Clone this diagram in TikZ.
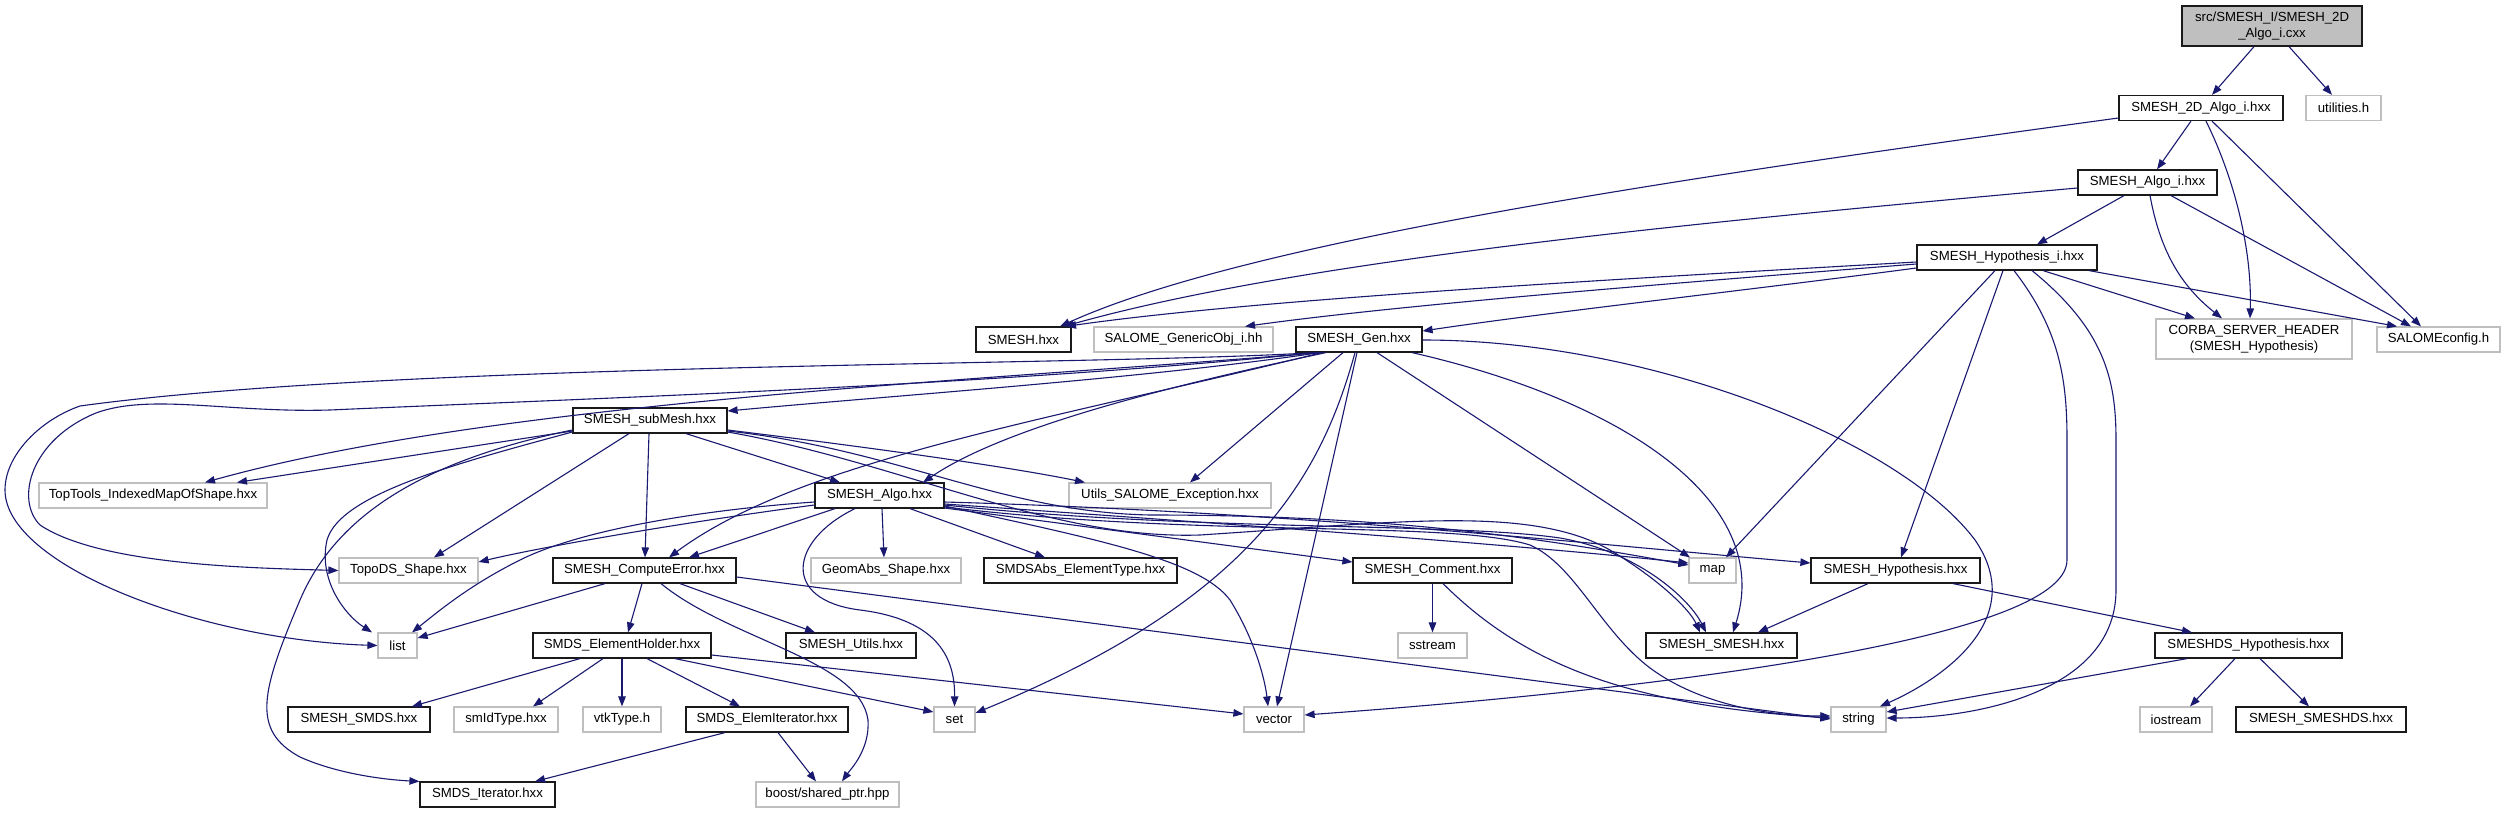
\documentclass[tikz,border=0pt]{standalone}
\usepackage{fontspec}
\setmainfont{Liberation Sans}
\usetikzlibrary{arrows.meta}
\definecolor{edgeblue}{HTML}{191970}
\definecolor{greybox}{HTML}{BFBFBF}
\definecolor{darkbox}{HTML}{1A1A1A}
\begin{document}
\begin{tikzpicture}[x=1pt,y=-1pt,
  nb/.style={draw=darkbox, fill=white, line width=1.2pt, inner sep=0pt, minimum height=25pt,
    font=\fontsize{13.2}{15.6}\selectfont, align=center},
  ng/.style={nb, draw=greybox},
  e/.style={draw=edgeblue, line width=1.1pt, -{Triangle[length=10pt,width=7.5pt]}}]
\useasboundingbox (0,0) rectangle (2505,813);
\fill[white] (0,0) rectangle (2505,813);
% nodes
\node[nb, fill=greybox, minimum width=180, minimum height=40] (root) at (2272,26) {src/SMESH\_I/SMESH\_2D\\\_Algo\_i.cxx};
\node[nb, minimum width=164] (a2d) at (2201,108) {SMESH\_2D\_Algo\_i.hxx};
\node[ng, minimum width=75] (util) at (2343.5,108) {utilities.h};
\node[nb, minimum width=139] (algoi) at (2147.5,182.5) {SMESH\_Algo\_i.hxx};
\node[nb, minimum width=180] (hypi) at (2007,257.5) {SMESH\_Hypothesis\_i.hxx};
\node[nb, minimum width=95] (smesh) at (1023.5,339.5) {SMESH.hxx};
\node[ng, minimum width=179] (gobj) at (1183.5,339.5) {SALOME\_GenericObj\_i.hh};
\node[nb, minimum width=126] (gen) at (1359,339.5) {SMESH\_Gen.hxx};
\node[ng, minimum width=196, minimum height=40] (corba) at (2254,339) {CORBA\_SERVER\_HEADER\\(SMESH\_Hypothesis)};
\node[ng, minimum width=123] (salcfg) at (2438.5,339.5) {SALOMEconfig.h};
\node[nb, minimum width=154] (submesh) at (650,420.5) {SMESH\_subMesh.hxx};
\node[ng, minimum width=228] (toptools) at (153,495.5) {TopTools\_IndexedMapOfShape.hxx};
\node[nb, minimum width=129] (algo) at (879.5,495.5) {SMESH\_Algo.hxx};
\node[ng, minimum width=202] (uexc) at (1170,495.5) {Utils\_SALOME\_Exception.hxx};
\node[ng, minimum width=139] (topods) at (408.5,570.5) {TopoDS\_Shape.hxx};
\node[nb, minimum width=183] (comperr) at (644.5,570.5) {SMESH\_ComputeError.hxx};
\node[ng, minimum width=150] (geomabs) at (886,570.5) {GeomAbs\_Shape.hxx};
\node[nb, minimum width=193] (smdsabs) at (1080.5,570.5) {SMDSAbs\_ElementType.hxx};
\node[nb, minimum width=159] (comment) at (1432.5,570.5) {SMESH\_Comment.hxx};
\node[ng, minimum width=47] (map) at (1712.5,570.5) {map};
\node[nb, minimum width=169] (hyp) at (1895.5,570.5) {SMESH\_Hypothesis.hxx};
\node[ng, minimum width=39] (list) at (397.5,645.5) {list};
\node[nb, minimum width=178] (eh) at (622,645.5) {SMDS\_ElementHolder.hxx};
\node[nb, minimum width=130] (utilsh) at (851,645.5) {SMESH\_Utils.hxx};
\node[ng, minimum width=69] (sstream) at (1432.5,645.5) {sstream};
\node[nb, minimum width=151] (ss) at (1721.5,645.5) {SMESH\_SMESH.hxx};
\node[nb, minimum width=187] (dshyp) at (2248.5,645.5) {SMESHDS\_Hypothesis.hxx};
\node[nb, minimum width=142] (smds) at (359,719.5) {SMESH\_SMDS.hxx};
\node[ng, minimum width=104] (smid) at (506,719.5) {smIdType.hxx};
\node[ng, minimum width=78] (vtk) at (622,719.5) {vtkType.h};
\node[nb, minimum width=162] (elemit) at (767,719.5) {SMDS\_ElemIterator.hxx};
\node[ng, minimum width=41] (set) at (954.5,719.5) {set};
\node[ng, minimum width=60] (vector) at (1274,719.5) {vector};
\node[ng, minimum width=55] (string) at (1858.5,719.5) {string};
\node[ng, minimum width=72] (iostream) at (2176,719.5) {iostream};
\node[nb, minimum width=170] (smeshds) at (2321,719.5) {SMESH\_SMESHDS.hxx};
\node[nb, minimum width=135] (iter) at (487.5,794.5) {SMDS\_Iterator.hxx};
\node[ng, minimum width=143] (boost) at (827.5,794.5) {boost/shared\_ptr.hpp};
% edges
\draw[e] (root.south -| 2254,0) -- (a2d.north -| 2212,0);
\draw[e] (root.south -| 2289,0) -- (util.north -| 2332,0);
\draw[e] (a2d.south -| 2191,0) -- (algoi.north -| 2157,0);
\draw[e] (a2d.west |- 0,118) .. controls (1700,175) and (1250,240) .. (smesh.north -| 1060,0);
\draw[e] (a2d.south -| 2206,0) .. controls (2235,180) and (2252,250) .. (corba.north -| 2250,0);
\draw[e] (a2d.south -| 2212,0) -- (salcfg.north -| 2421,0);
\draw[e] (algoi.south -| 2124,0) -- (hypi.north -| 2037,0);
\draw[e] (algoi.west |- 0,188) .. controls (1700,222) and (1300,260) .. (smesh.north -| 1064,0);
\draw[e] (algoi.south -| 2150,0) .. controls (2160,250) and (2180,285) .. (corba.north -| 2222,0);
\draw[e] (algoi.south -| 2171,0) -- (salcfg.north -| 2411,0);
\draw[e] (hypi.west |- 0,262) .. controls (1600,280) and (1250,300) .. (smesh.north -| 1066,0);
\draw[e] (hypi.west |- 0,264) .. controls (1650,285) and (1400,305) .. (gobj.north -| 1245,0);
\draw[e] (hypi.west |- 0,268) .. controls (1750,290) and (1550,312) .. (gen.east |- 0,331);
\draw[e] (hypi.south -| 2043,0) -- (corba.north -| 2195,0);
\draw[e] (hypi.south -| 2089,0) -- (salcfg.north -| 2397,0);
\draw[e] (hypi.south -| 1995,0) -- (map.north -| 1726,0);
\draw[e] (hypi.south -| 2003,0) -- (hyp.north -| 1901,0);
\draw[e] (hypi.south -| 2014,0) .. controls (2060,330) and (2067,380) .. (2067,440) -- (2067,560) .. controls (2067,640) and (1650,690) .. (vector.east |- 0,715);
\draw[e] (hypi.south -| 2032,0) .. controls (2105,330) and (2116,380) .. (2116,440) -- (2116,590) .. controls (2116,690) and (1980,718) .. (string.east |- 0,718);
\draw[e] (gen.south -| 1320,0) .. controls (1150,378) and (900,395) .. (submesh.east |- 0,411);
\draw[e] (gen.south -| 1315,0) .. controls (1100,366) and (400,362) .. (80,406) .. controls (40,420) and (5,455) .. (5,490) .. controls (5,565) and (200,640) .. (list.west);
\draw[e] (gen.south -| 1317,0) .. controls (1000,385) and (600,398) .. (330,410) .. controls (230,413) and (150,393) .. (96,413) .. controls (30,440) and (15,500) .. (40,525) .. controls (100,565) and (250,568) .. (topods.west);
\draw[e] (gen.south -| 1319,0) .. controls (1000,380) and (500,400) .. (toptools.north -| 205,0);
\draw[e] (gen.south -| 1322,0) .. controls (1050,420) and (800,460) .. (comperr.north -| 669,0);
\draw[e] (gen.south -| 1326,0) .. controls (1150,390) and (1000,430) .. (algo.north -| 923,0);
\draw[e] (gen.south -| 1343,0) -- (uexc.north -| 1190,0);
\draw[e] (gen.south -| 1355,0) .. controls (1320,480) and (1250,600) .. (set.east |- 0,713);
\draw[e] (gen.south -| 1357,0) -- (vector.north -| 1277,0);
\draw[e] (gen.south -| 1377,0) -- (map.north -| 1690,0);
\draw[e] (gen.south -| 1412,0) .. controls (1620,400) and (1775,500) .. (ss.north -| 1733,0);
\draw[e] (gen.east |- 0,340) .. controls (1650,340) and (1900,440) .. (1975,540) .. controls (2030,620) and (1940,680) .. (string.north -| 1880,0);
\draw[e] (submesh.west |- 0,431) -- (toptools.north -| 237,0);
\draw[e] (submesh.south -| 629,0) -- (topods.north -| 434,0);
\draw[e] (submesh.west |- 0,432) .. controls (450,465) and (340,495) .. (327,540) .. controls (318,580) and (345,615) .. (list.north -| 372,0);
\draw[e] (submesh.west |- 0,430) .. controls (400,465) and (330,530) .. (300,600) .. controls (262,690) and (250,730) .. (300,757) .. controls (340,775) and (390,780) .. (iter.north west);
\draw[e] (submesh.south -| 649,0) -- (comperr.north -| 645,0);
\draw[e] (submesh.south -| 686,0) -- (algo.north -| 840,0);
\draw[e] (submesh.east |- 0,430) .. controls (850,445) and (1000,465) .. (uexc.north -| 1085,0);
\draw[e] (submesh.east |- 0,431) .. controls (900,450) and (1000,512) .. (1150,515) .. controls (1400,515) and (1550,540) .. (map.west |- 0,565);
\draw[e] (submesh.east |- 0,432) .. controls (900,462) and (1050,540) .. (1200,535) .. controls (1400,522) and (1530,505) .. (1610,550) .. controls (1660,580) and (1690,610) .. (ss.north -| 1700,0);
\draw[e] (algo.west |- 0,505) .. controls (700,520) and (550,545) .. (topods.east |- 0,562);
\draw[e] (algo.west |- 0,502) .. controls (700,510) and (580,530) .. (520,560) .. controls (470,585) and (440,610) .. (list.north -| 412,0);
\draw[e] (algo.south -| 835,0) -- (comperr.north -| 689,0);
\draw[e] (algo.south -| 882,0) -- (geomabs.north -| 884,0);
\draw[e] (algo.south -| 910,0) -- (smdsabs.north -| 1045,0);
\draw[e] (algo.south -| 855,0) .. controls (790,540) and (780,600) .. (860,610) .. controls (940,620) and (955,660) .. (set.north);
\draw[e] (algo.east |- 0,506) .. controls (1100,540) and (1200,560) .. (1230,600) .. controls (1255,640) and (1265,680) .. (vector.north -| 1268,0);
\draw[e] (algo.east |- 0,508) -- (comment.west |- 0,562);
\draw[e] (algo.east |- 0,504) .. controls (1200,522) and (1500,543) .. (map.west |- 0,563);
\draw[e] (algo.east |- 0,502) .. controls (1300,512) and (1600,545) .. (hyp.west |- 0,563);
\draw[e] (algo.east |- 0,505) .. controls (1200,532) and (1450,522) .. (1560,538) .. controls (1640,552) and (1690,600) .. (ss.north -| 1706,0);
\draw[e] (algo.east |- 0,507) .. controls (1200,538) and (1450,520) .. (1530,545) .. controls (1575,565) and (1600,630) .. (1650,668) .. controls (1700,705) and (1770,716) .. (string.west |- 0,716);
\draw[e] (comperr.south -| 605,0) -- (list.east |- 0,638);
\draw[e] (comperr.south -| 642,0) -- (eh.north -| 628,0);
\draw[e] (comperr.south -| 680,0) -- (utilsh.north -| 815,0);
\draw[e] (comperr.south -| 661,0) .. controls (730,640) and (860,660) .. (868,720) .. controls (870,750) and (850,770) .. (boost.north -| 842,0);
\draw[e] (comperr.east |- 0,577) -- (string.west |- 0,719);
\draw[e] (eh.south -| 580,0) -- (smds.north -| 412,0);
\draw[e] (eh.south -| 603,0) -- (smid.north -| 533,0);
\draw[e] (eh.south) -- (vtk.north);
\draw[e] (eh.south -| 647,0) -- (elemit.north -| 740,0);
\draw[e] (eh.south -| 675,0) -- (set.west |- 0,712);
\draw[e] (eh.east |- 0,655) -- (vector.west |- 0,714);
\draw[e] (elemit.south -| 725,0) -- (iter.north -| 535,0);
\draw[e] (elemit.south -| 778,0) -- (boost.north -| 816,0);
\draw[e] (comment.south) -- (sstream.north);
\draw[e] (comment.south -| 1443,0) .. controls (1520,660) and (1620,705) .. (string.west |- 0,718);
\draw[e] (hyp.south -| 1868,0) -- (ss.north -| 1758,0);
\draw[e] (hyp.south -| 1953,0) -- (dshyp.north -| 2192,0);
\draw[e] (dshyp.south -| 2187,0) -- (string.east |- 0,712);
\draw[e] (dshyp.south -| 2235,0) -- (iostream.north -| 2190,0);
\draw[e] (dshyp.south -| 2260,0) -- (smeshds.north -| 2309,0);
\end{tikzpicture}
\end{document}
